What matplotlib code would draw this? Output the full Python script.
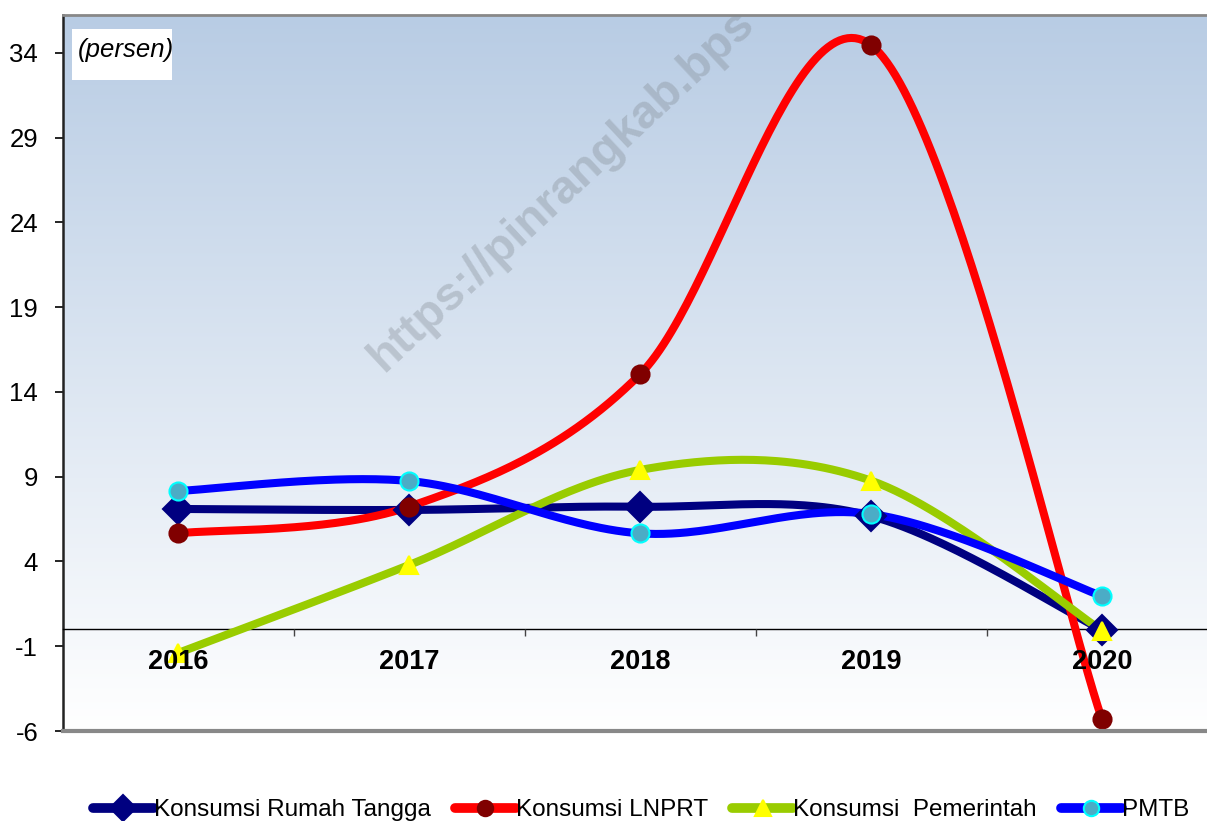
import numpy as np
import matplotlib.pyplot as plt
from matplotlib.lines import Line2D
from matplotlib.patches import Rectangle

plt.rcParams['font.family'] = ['Liberation Sans', 'DejaVu Sans']

years = ['2016', '2017', '2018', '2019', '2020']
rumah_tangga = [7.10, 7.04, 7.23, 6.68, -0.04]
lnprt = [5.66, 7.23, 15.04, 34.47, -5.31]
pemerintah = [-1.40, 3.79, 9.40, 8.77, -0.08]
pmtb = [8.16, 8.75, 5.66, 6.80, 1.96]
yticks = [-6, -1, 4, 9, 14, 19, 24, 29, 34]


def smooth(xs, ys, n=60):
    # bezier smoothing like the spreadsheet "smoothed line" option
    xs = np.asarray(xs, float)
    ys = np.asarray(ys, float)
    px = np.concatenate([[xs[0]], xs, [xs[-1]]])
    py = np.concatenate([[ys[0]], ys, [ys[-1]]])
    outx, outy = [], []
    t = np.linspace(0, 1, n)
    for i in range(1, len(px) - 2):
        p0 = np.array([px[i], py[i]])
        p3 = np.array([px[i + 1], py[i + 1]])
        p1 = p0 + (np.array([px[i + 1], py[i + 1]]) - np.array([px[i - 1], py[i - 1]])) / 6
        p2 = p3 - (np.array([px[i + 2], py[i + 2]]) - np.array([px[i], py[i]])) / 6
        b = ((1 - t) ** 3)[:, None] * p0 + (3 * (1 - t) ** 2 * t)[:, None] * p1 \
            + (3 * (1 - t) * t ** 2)[:, None] * p2 + (t ** 3)[:, None] * p3
        outx.extend(b[:, 0])
        outy.extend(b[:, 1])
    return outx, outy


fig = plt.figure(figsize=(12.07, 8.21), dpi=100)
ax = fig.add_axes([62.5 / 1207, 90 / 821, 1155 / 1207, 716 / 821])

ymin = -6
ymax = 36.24
ax.set_xlim(-0.5, 4.5)
ax.set_ylim(ymin, ymax)

# gradient background
grad = np.linspace(0, 1, 256)[:, None]
top = np.array([0.722, 0.800, 0.894])
bot = np.array([1.0, 1.0, 1.0])
img = top[None, None, :] * (1 - grad[:, :, None]) + bot[None, None, :] * grad[:, :, None]
ax.imshow(img, extent=[0, 1, 0, 1], transform=ax.transAxes, aspect='auto', zorder=0)

x = np.arange(len(years))
series = [
    (rumah_tangga, '#000080', 'D', '#000080', '#000080', 15, 'Konsumsi Rumah Tangga'),
    (lnprt, '#FF0000', 'o', '#800000', '#800000', 13, 'Konsumsi LNPRT'),
    (pemerintah, '#99CC00', '^', '#FFFF00', '#FFFF00', 13, 'Konsumsi  Pemerintah'),
    (pmtb, '#0000FF', 'o', '#4BACC6', '#00FFFF', 13, 'PMTB'),
]
handles = []
for vals, col, mk, mfc, mec, ms, lab in series:
    sx, sy = smooth(x, vals)
    ax.plot(sx, sy, color=col, lw=5.8, zorder=3, solid_capstyle='round')
    ax.plot(x, vals, ls='none', marker=mk, ms=ms, mfc=mfc, mec=mec, mew=1.5, zorder=4)
    handles.append(Line2D([], [], color=col, lw=7, marker=mk, ms=ms * 0.85,
                          mfc=mfc, mec=mec, mew=1.5, label=lab, solid_capstyle='round'))

# axes styling
ax.spines['bottom'].set_position(('data', 0))
ax.spines['bottom'].set_color('black')
ax.spines['bottom'].set_linewidth(1.0)
ax.spines['left'].set_color('#222222')
ax.spines['left'].set_linewidth(1.8)
ax.spines['top'].set_color('#888888')
ax.spines['top'].set_linewidth(2)
ax.spines['right'].set_color('#888888')
ax.plot([0, 1], [0, 0], transform=ax.transAxes, color='#888888', lw=3, clip_on=False, zorder=5)

ax.set_xticks(x)
ax.set_xticklabels(years, fontsize=19.5, fontweight='bold')
ax.set_xticks(x[:-1] + 0.5, minor=True)
ax.tick_params(axis='x', which='major', length=0, pad=14)
ax.tick_params(axis='x', which='minor', length=5, width=1, direction='out', color='#444444')
ax.xaxis.set_zorder(6)
ax.set_yticks(yticks)
ax.set_yticklabels([str(v) for v in yticks], fontsize=18.5)
ax.tick_params(axis='y', length=5.5, width=1.2, pad=12)

fig.patches.append(Rectangle((72 / 1207, 1 - 80 / 821), 100 / 1207, 51 / 821, transform=fig.transFigure,
                             facecolor='white', edgecolor='none', zorder=5))
fig.text(78 / 1207, 1 - 50 / 821, '(persen)', fontsize=18.5, style='italic', va='center', ha='left', zorder=6)

fig.text(0.466, 0.768, 'https://pinrangkab.bps', fontsize=34, fontweight='bold', color='#808890',
         alpha=0.35, rotation=43, ha='center', va='center', zorder=10)

fig.legend(handles=handles, loc='lower center', bbox_to_anchor=(0.531, -0.027), ncol=4, frameon=False,
           fontsize=17.5, handlelength=2.5, handletextpad=0.0, columnspacing=1.0)

fig.savefig('out.png', dpi=100)
